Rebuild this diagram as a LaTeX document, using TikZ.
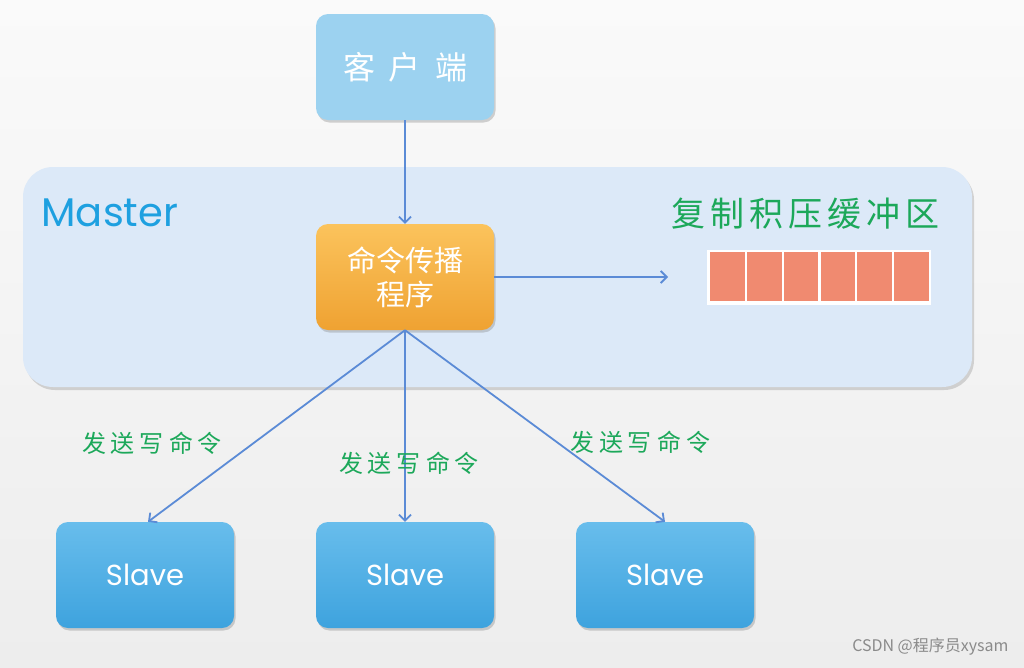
\documentclass[tikz,border=0pt]{standalone}
\usepackage{fontspec}
\setmainfont{Poppins}
\newfontfamily\cjk{Noto Sans CJK SC}
\usetikzlibrary{arrows.meta,shadows}
\definecolor{bgtop}{HTML}{FAFAFA}
\definecolor{bgbot}{HTML}{EDEDED}
\definecolor{clientc}{HTML}{9CD2F0}
\definecolor{masterc}{HTML}{DCE9F8}
\definecolor{mastertxt}{HTML}{1EA0E0}
\definecolor{orangetop}{HTML}{FBC35C}
\definecolor{orangebot}{HTML}{EFA232}
\definecolor{slavetop}{HTML}{68BDEC}
\definecolor{slavebot}{HTML}{3EA3DE}
\definecolor{arrowc}{HTML}{5B8BD6}
\definecolor{greentxt}{HTML}{1CA85A}
\definecolor{cellc}{HTML}{F08A70}
\definecolor{wmark}{HTML}{8A8A8A}
\tikzset{
  boxbase/.style={rounded corners=12pt, minimum width=178pt, minimum height=106pt,
    draw=none, drop shadow={shadow xshift=1.5pt, shadow yshift=-2.5pt, opacity=0.35}, text=white, align=center},
  clientbox/.style={boxbase, fill=clientc},
  progbox/.style={boxbase, top color=orangetop, bottom color=orangebot},
  slavebox/.style={boxbase, top color=slavetop, bottom color=slavebot},
  conn/.style={draw=arrowc, line width=1.8pt, -{Straight Barb[length=6pt,width=12pt,line width=1.8pt]}},
  sendlbl/.style={text=greentxt, font=\cjk\fontsize{24}{26}\selectfont},
  cell/.style={fill=cellc, draw=none}
}
\newcommand{\gap}{\hspace{5pt}}
\begin{document}
\begin{tikzpicture}[x=1pt,y=-1pt]
\useasboundingbox (0,0) rectangle (1024,667);
\shade[top color=bgtop, bottom color=bgbot] (0,0) rectangle (1024,667);
% Master container
\node[draw=none, fill=masterc, rounded corners=30pt, minimum width=949pt, minimum height=220pt,
  drop shadow={shadow xshift=2pt, shadow yshift=-3pt, opacity=0.3}] (master) at (497.5,277) {};
\node[anchor=west, text=mastertxt, font=\fontsize{40}{46}\selectfont] (mlabel) at (38,213) {Master};
% client
\node[clientbox, font=\cjk\fontsize{32}{34}\selectfont] (client) at (405,67) {客\hspace{14pt}户\hspace{14pt}端};
% program
\node[progbox, font=\cjk\fontsize{29}{34}\selectfont] (prog) at (405,277) {命令传播\\程序};
% buffer
\node[text=greentxt, font=\cjk\fontsize{34}{36}\selectfont] (buflabel) at (805,214) {复\gap 制\gap 积\gap 压\gap 缓\gap 冲\gap 区};
\node[fill=white, draw=none, minimum width=224pt, minimum height=55pt, inner sep=0pt] (buffer) at (818.5,277) {};
\foreach \i in {0,...,5}{
  \node[cell, minimum width=34.5pt, minimum height=49pt, inner sep=0pt] (c\i) at ({727.5+\i*36.8},276) {};
}
\coordinate (bufin) at (668,277);
% slaves
\node[slavebox, font=\fontsize{29}{32}\selectfont] (s1) at (145,575) {Slave};
\node[slavebox, font=\fontsize{29}{32}\selectfont] (s2) at (405,575) {Slave};
\node[slavebox, font=\fontsize{29}{32}\selectfont] (s3) at (665,575) {Slave};
% connectors
\draw[conn] (client.south) -- (prog.north);
\draw[conn] (prog.east) -- (bufin);
\draw[conn] (prog.south) -- ([xshift=3pt]s1.north);
\draw[conn] (prog.south) -- (s2.north);
\draw[conn] (prog.south) -- (s3.north);
% labels
\node[sendlbl] (l1) at (152,443) {发\gap 送\gap 写\gap 命\gap 令};
\node[sendlbl] (l2) at (409,463) {发\gap 送\gap 写\gap 命\gap 令};
\node[sendlbl] (l3) at (640,442) {发\gap 送\gap 写\gap 命\gap 令};
% watermark
\node[anchor=east, text=wmark, font=\cjk\fontsize{16}{18}\selectfont] (wm) at (1012,647) {CSDN @程序员xysam};
\end{tikzpicture}
\end{document}
